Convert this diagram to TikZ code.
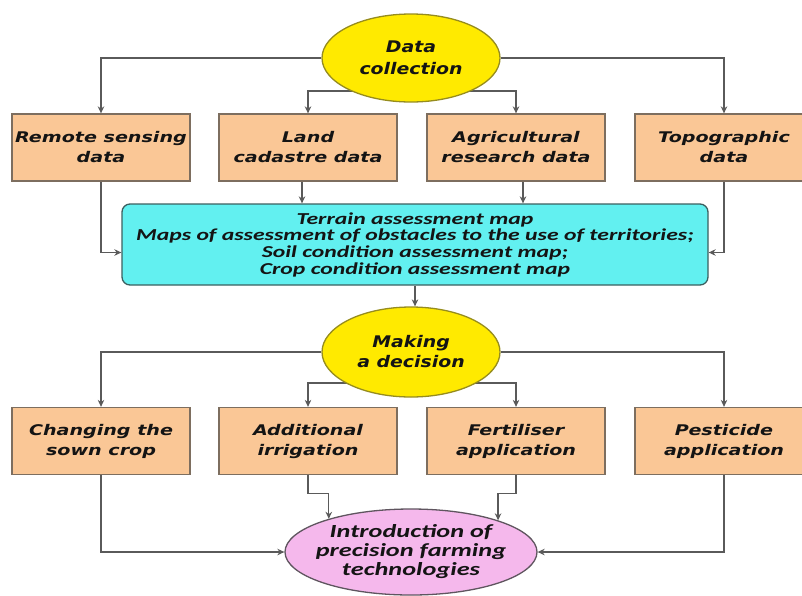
\documentclass[tikz,border=0pt]{standalone}
\usepackage{fontspec}
\usetikzlibrary{shapes.geometric,arrows.meta,backgrounds}
\newfontfamily\vfont[FakeStretch=1.3]{DejaVu Sans Bold Oblique}
\newfontfamily\efont[FakeStretch=1.18]{DejaVu Sans Bold Oblique}
\newfontfamily\cfont[FakeStretch=1.42]{Carlito Bold Italic}
\definecolor{peach}{RGB}{250,199,150}
\definecolor{pbord}{RGB}{125,110,95}
\definecolor{yell}{RGB}{255,234,0}
\definecolor{ybord}{RGB}{150,140,30}
\definecolor{cyanf}{RGB}{98,240,240}
\definecolor{cbord}{RGB}{60,95,95}
\definecolor{pinkf}{RGB}{245,184,236}
\definecolor{pkbord}{RGB}{95,85,95}
\definecolor{lc}{RGB}{90,90,90}
\definecolor{txt}{RGB}{20,20,20}
\begin{document}
\begin{tikzpicture}[x=1pt,y=-1pt,
  pbox/.style={draw=pbord, fill=peach, line width=1.3pt, minimum width=178pt,
    minimum height=67pt, inner sep=0pt, align=center, text=txt,
    font=\vfont\fontsize{14.7}{20}\selectfont},
  yell/.style={ellipse, draw=ybord, fill=yell, line width=1.3pt, minimum width=178pt,
    minimum height=88pt, inner sep=0pt, align=center, text=txt},
  arr/.style={draw=lc, line width=1.2pt, -{Stealth[length=7pt,width=6.5pt]}}]
\useasboundingbox (0,0) rectangle (802,595);
\clip (0,0) rectangle (802,595);
% top level
\node[yell, font=\efont\fontsize{16}{22}\selectfont] (dc) at (411,58) {Data\\collection};
\node[pbox] (b1) at (101,147.5) {Remote sensing\\data};
\node[pbox] (b2) at (308,147.5) {Land\\cadastre data};
\node[pbox] (b3) at (516,147.5) {Agricultural\\research data};
\node[pbox] (b4) at (724,147.5) {Topographic\\data};
\node[draw=cbord, fill=cyanf, line width=1.3pt, rounded corners=8pt, minimum width=586pt,
  minimum height=81pt, inner sep=0pt, align=center, text=txt,
  font=\cfont\fontsize{16.7}{16.7}\selectfont] (cy) at (415,244.5)
  {Terrain assessment map\\Maps of assessment of obstacles to the use of territories;\\Soil condition assessment map;\\Crop condition assessment map};
% middle level
\node[yell, minimum height=90pt, font=\efont\fontsize{16}{20}\selectfont] (md) at (411,352) {Making\\a decision};
\node[pbox] (c1) at (101,441) {Changing the\\sown crop};
\node[pbox] (c2) at (308,441) {Additional\\irrigation};
\node[pbox] (c3) at (516,441) {Fertiliser\\application};
\node[pbox] (c4) at (724,441) {Pesticide\\application};
% bottom
\node[ellipse, draw=pkbord, fill=pinkf, line width=1.3pt, minimum width=252pt, minimum height=86pt,
  inner xsep=-24pt, inner ysep=0pt, align=center, text=txt,
  font=\cfont\fontsize{18.5}{19}\selectfont] (intro) at (411,552)
  {Introduction of\\precision farming\\technologies};
\begin{scope}[on background layer]
\draw[arr] (dc.west) -| (b1.north);
\draw[arr] (dc.east) -| (b4.north);
\draw[arr] ([yshift=-33pt]dc.center) -| (b2.north);
\draw[arr] ([yshift=-33pt]dc.center) -| (b3.north);
\draw[arr] ([xshift=-6pt]b2.south) -- ([xshift=-6pt]b2.south |- cy.north);
\draw[arr] ([xshift=7pt]b3.south) -- ([xshift=7pt]b3.south |- cy.north);
\draw[arr] (b1.south) |- ([yshift=-8pt]cy.west);
\draw[arr] (b4.south) |- ([yshift=-8pt]cy.east);
\draw[arr] (cy.south) -- (cy.south |- md.north);
\draw[arr] (md.west) -| (c1.north);
\draw[arr] (md.east) -| (c4.north);
\draw[arr] ([yshift=-31pt]md.center) -| (c2.north);
\draw[arr] ([yshift=-31pt]md.center) -| (c3.north);
\draw[arr] (c1.south) |- (intro.west);
\draw[arr] (c4.south) |- (intro.east);
\draw[arr] (c2.south) -- ++(0,-18pt) -| (intro.158);
\draw[arr] (c3.south) -- ++(0,-18pt) -| (intro.20);
\end{scope}
\end{tikzpicture}
\end{document}
